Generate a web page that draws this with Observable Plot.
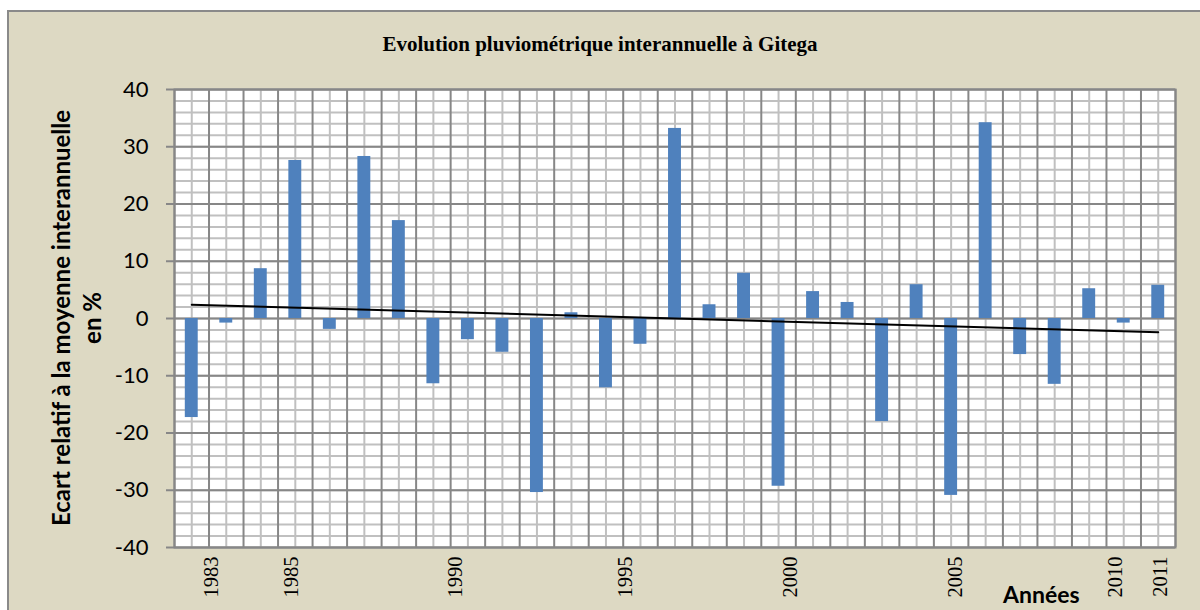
<!DOCTYPE html>
<html>
<head>
<meta charset="utf-8">
<script src="https://cdn.jsdelivr.net/npm/d3@7"></script>
<script src="https://cdn.jsdelivr.net/npm/@observablehq/plot@0.6"></script>
<style>
  body { margin: 0; background: #ffffff; }
  #wrap { position: relative; width: 1200px; height: 610px; overflow: hidden; }
  #frame { position: absolute; left: 7px; top: 10px; width: 1220px; height: 640px; background: #DDD9C3; border: 2px solid #8a8a8a; box-sizing: border-box; }
  #title { position: absolute; left: 0; width: 1200px; top: 32px; text-align: center; font: bold 21px "Liberation Serif", serif; color: #000; }
  #ylab { position: absolute; width: 500px; height: 64px; left: -173px; top: 286px; transform: rotate(-90deg); transform-origin: 50% 50%; text-align: center; font: bold 24px Lato, sans-serif; line-height: 31px; color: #000; }
  #xlab { position: absolute; left: 1003px; top: 580px; font: bold 23px Lato, sans-serif; color: #000; }
  #chart { position: absolute; left: 0; top: 0; }
</style>
</head>
<body>
<div id="wrap">
  <div id="frame"></div>
  <div id="chart"></div>
  <div id="title">Evolution pluviométrique interannuelle à Gitega</div>
  <div id="ylab">Ecart relatif à la moyenne interannuelle<br>en %</div>
  <div id="xlab">Années</div>
</div>
<script>
// ---- data ----
const years = [1983, 1984, 1985, 1986, 1987, 1988, 1989, 1990, 1991, 1992,
               1993, 1994, 1995, 1996, 1997, 1998, 1999, 2000, 2001, 2002,
               2003, 2004, 2005, 2006, 2007, 2008, 2009, 2010, 2011];
const ecart = [-17.3, -0.8, 8.7, 27.6, -1.9, 28.3, 17.1, -11.4, -3.7, -5.9,
               -30.4, 1.0, -12.1, -4.5, 33.2, 2.4, 7.9, -29.3, 4.7, 2.8,
               -18.0, 5.9, -30.9, 34.2, -6.3, -11.5, 5.2, -0.8, 5.8];
const xTickLabels = [1983, 1985, 1990, 1995, 2000, 2005, 2010, 2011];
const yTicks = [-40, -30, -20, -10, 0, 10, 20, 30, 40];
const yMinorTicks = d3.range(-40, 41, 2);

// ---- build ----
const data = years.map((year, i) => ({year, value: ecart[i]}));
const boundaries = years.map(y => y - 0.5).concat([years[years.length - 1] + 0.5]);

const labelOffsets = {1983: 20, 1985: 31, 1990: 22, 1995: 19, 2000: 12, 2005: 4, 2010: -8, 2011: 2};
const xAxes = xTickLabels.map(t => Plot.axisX([t], {
  tickSize: 0, tickPadding: 9, tickRotate: -90, dx: labelOffsets[t],
  fontSize: 20.5, fontFamily: "Liberation Serif", fill: "#000", label: null,
  tickFormat: d => String(d)
}));

const chart = Plot.plot({
  width: 1200,
  height: 610,
  marginLeft: 174,
  marginRight: 25,
  marginTop: 89,
  marginBottom: 63,
  style: {background: "transparent", overflow: "visible"},
  x: {domain: [years[0] - 0.5, years[years.length - 1] + 0.5]},
  y: {domain: [-40, 40]},
  marks: [
    Plot.frame({fill: "white"}),
    Plot.ruleX(years, {stroke: "#C0C0C0", strokeWidth: 2}),
    Plot.ruleY(yMinorTicks, {stroke: "#C0C0C0", strokeWidth: 2}),
    Plot.ruleX(boundaries, {stroke: "#878787", strokeWidth: 2}),
    Plot.ruleY(yTicks, {stroke: "#878787", strokeWidth: 2}),
    Plot.rectY(data, {x1: d => d.year - 0.5, x2: d => d.year + 0.5, y: "value",
                      fill: "#4F81BD", insetLeft: 10.8, insetRight: 10.8}),
    Plot.linearRegressionY(data, {x: "year", y: "value", ci: 0, stroke: "#000", strokeWidth: 2}),
    Plot.frame({stroke: "#878787", strokeWidth: 2}),
    Plot.axisY(yTicks, {tickSize: 8, tickPadding: 18, stroke: "#878787", strokeWidth: 2,
                        fontSize: 22, fontFamily: "Lato", fill: "#000", label: null,
                        tickFormat: d => String(d)}),
    ...xAxes
  ]
});
document.getElementById("chart").appendChild(chart);
</script>
</body>
</html>
